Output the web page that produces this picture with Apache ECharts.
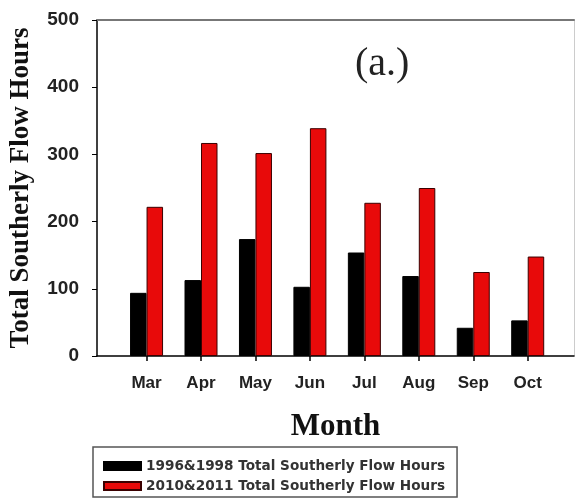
<!DOCTYPE html>
<html>
<head>
<meta charset="utf-8">
<script src="https://cdn.jsdelivr.net/npm/echarts@6/dist/echarts.min.js"></script>
<style>
  html, body { margin: 0; padding: 0; background: #fff; }
  #chart { width: 578px; height: 504px; }
</style>
</head>
<body>
<div id="chart"></div>
<script>
// month categories and the two sets of totals
const months = ['Mar', 'Apr', 'May', 'Jun', 'Jul', 'Aug', 'Sep', 'Oct'];
const hours9698 = [94, 113, 174, 103, 154, 119, 42, 53];
const hours1011 = [222, 317, 302, 339, 228, 250, 125, 148];
const yTicks = [0, 100, 200, 300, 400, 500];

const monthIdx = months.map((m, i) => i);

const chart = echarts.init(document.getElementById('chart'));

const option = {
    animation: false,
    backgroundColor: '#fff',
    grid: { left: 92, right: 4, top: 20, bottom: 148 },
    xAxis: [
        {
            type: 'value',
            min: -0.91,
            max: 7.85,
            name: 'Month',
            nameLocation: 'middle',
            nameGap: 55,
            nameTextStyle: {
                fontFamily: 'Liberation Serif',
                fontWeight: 'bold',
                fontSize: 31,
                color: '#111'
            },
            splitLine: { show: false },
            axisLine: { show: true, onZero: false, lineStyle: { color: '#000', width: 1.5 } },
            axisTick: {
                show: true,
                customValues: monthIdx,
                length: 5,
                lineStyle: { color: '#000', width: 1.5 }
            },
            axisLabel: {
                customValues: monthIdx,
                formatter: (v) => months[Math.round(v)],
                margin: 19,
                fontFamily: 'Liberation Sans',
                fontWeight: 'bold',
                fontSize: 17,
                color: '#222'
            }
        },
        {
            // top frame line
            type: 'value',
            position: 'top',
            min: -0.91,
            max: 7.85,
            splitLine: { show: false },
            axisLine: { show: true, onZero: false, lineStyle: { color: '#777', width: 2 } },
            axisTick: { show: false },
            axisLabel: { show: false }
        }
    ],
    yAxis: [
        {
            type: 'value',
            min: 0,
            max: 500,
            interval: 100,
            name: 'Total Southerly Flow Hours',
            nameLocation: 'middle',
            nameGap: 62,
            nameRotate: 90,
            nameTextStyle: {
                fontFamily: 'Liberation Serif',
                fontWeight: 'bold',
                fontSize: 27,
                color: '#111'
            },
            splitLine: { show: false },
            axisLine: { show: true, onZero: false, lineStyle: { color: '#000', width: 1.5 } },
            axisTick: { show: true, length: 5, lineStyle: { color: '#000' } },
            axisLabel: {
                margin: 18,
                customValues: yTicks,
                fontFamily: 'Liberation Sans',
                fontWeight: 'bold',
                fontSize: 19,
                color: '#222'
            }
        },
        {
            // faint right frame line
            type: 'value',
            position: 'right',
            min: 0,
            max: 500,
            splitLine: { show: false },
            axisLine: { show: true, onZero: false, lineStyle: { color: '#ccc', width: 1 } },
            axisTick: { show: false },
            axisLabel: { show: false }
        }
    ],
    legend: {
        orient: 'vertical',
        left: 93,
        top: 447,
        padding: [12, 12, 4, 10],
        itemGap: 6,
        itemWidth: 37,
        itemHeight: 8,
        borderColor: '#555',
        borderWidth: 1.5,
        textStyle: {
            fontFamily: 'DejaVu Sans',
            fontWeight: 'bold',
            fontSize: 13.6,
            color: '#333'
        },
        data: [
            { name: '1996&1998 Total Southerly Flow Hours', icon: 'rect' },
            { name: '2010&2011 Total Southerly Flow Hours', icon: 'rect' }
        ]
    },
    graphic: [
        {
            type: 'text',
            left: 355,
            top: 44,
            style: {
                text: '(a.)',
                font: 'normal 40px "Liberation Serif"',
                fill: '#222'
            }
        }
    ],
    series: [
        {
            name: '1996&1998 Total Southerly Flow Hours',
            type: 'bar',
            barWidth: 16.5,
            barGap: '0%',
            itemStyle: { color: '#000', borderColor: '#000', borderWidth: 1 },
            data: hours9698.map((v, i) => [i, v])
        },
        {
            name: '2010&2011 Total Southerly Flow Hours',
            type: 'bar',
            barWidth: 16.5,
            barGap: '0%',
            itemStyle: { color: '#e80a0a', borderColor: '#3a0000', borderWidth: 1 },
            data: hours1011.map((v, i) => [i, v])
        }
    ]
};

chart.setOption(option);
</script>
</body>
</html>
